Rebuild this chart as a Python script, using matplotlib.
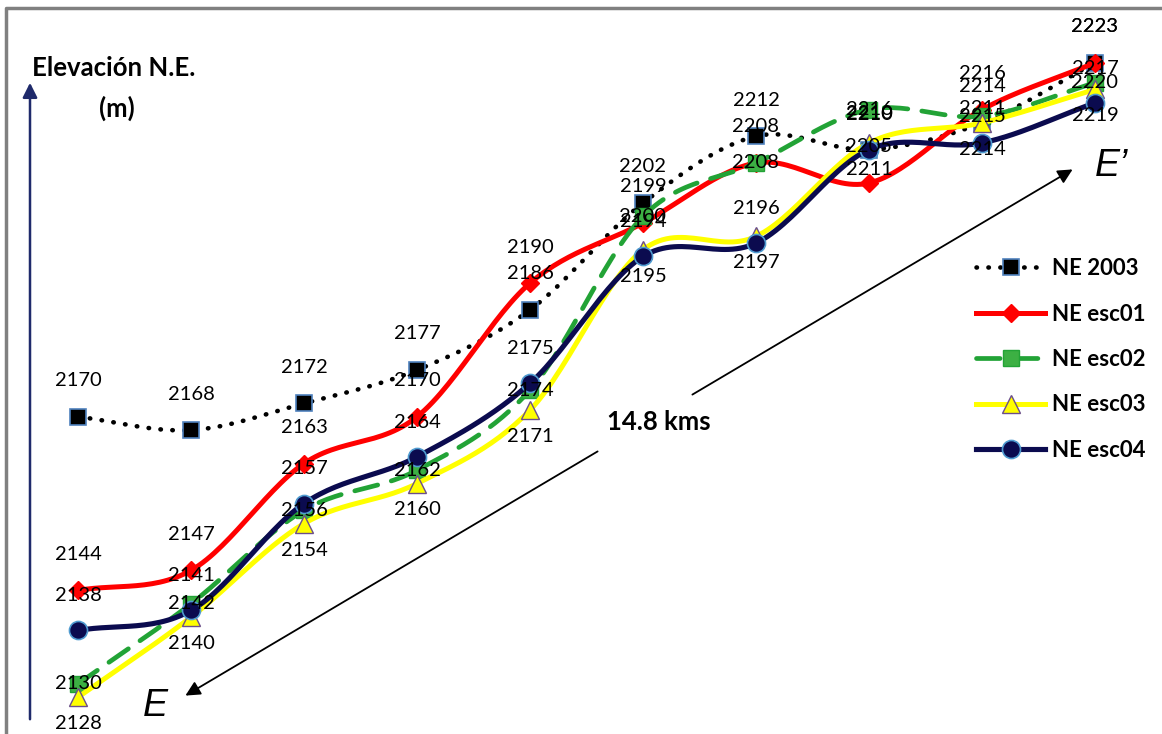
import numpy as np
import matplotlib.pyplot as plt

plt.rcParams['font.family'] = ['Lato', 'DejaVu Sans']

# estaciones a lo largo del perfil E - E'
stations = np.arange(10)
ne_2003 = [2170, 2168, 2172, 2177, 2186, 2202, 2212, 2210, 2214, 2223]
ne_esc01 = [2144, 2147, 2163, 2170, 2190, 2199, 2208, 2205, 2216, 2223]
ne_esc02 = [2130, 2142, 2156, 2162, 2174, 2200, 2208, 2216, 2215, 2220]
ne_esc03 = [2128, 2140, 2154, 2160, 2171, 2195, 2197, 2211, 2214, 2219]
ne_esc04 = [2138, 2141, 2157, 2164, 2175, 2194, 2196, 2210, 2211, 2217]
series_names = ['NE 2003', 'NE esc01', 'NE esc02', 'NE esc03', 'NE esc04']

W, H = 1162, 734


def fig_xy(px, py):
    # pixel position -> figure fraction
    return px / W, 1 - py / H


def smooth(x, y, n=30):
    # catmull-rom curve through the points (like excel smoothed lines)
    x = np.asarray(x, float)
    y = np.asarray(y, float)
    px = np.concatenate([[2 * x[0] - x[1]], x, [2 * x[-1] - x[-2]]])
    py = np.concatenate([[2 * y[0] - y[1]], y, [2 * y[-1] - y[-2]]])
    t = np.linspace(0, 1, n)[:, None]
    out_x, out_y = [], []
    for i in range(1, len(px) - 2):
        for p, out in ((px, out_x), (py, out_y)):
            p0, p1, p2, p3 = p[i - 1], p[i], p[i + 1], p[i + 2]
            c = 0.5 * ((2 * p1) + (-p0 + p2) * t + (2 * p0 - 5 * p1 + 4 * p2 - p3) * t ** 2
                       + (-p0 + 3 * p1 - 3 * p2 + p3) * t ** 3)
            out.extend(c.ravel())
    return np.array(out_x), np.array(out_y)


fig = plt.figure(figsize=(W / 100, H / 100), dpi=100)
ax = fig.add_axes([0, 0, 1, 1])
ax.set_xlim(-78 / 113, 9 + 67 / 113)
ax.set_ylim(2122.5, 2232.4)
ax.axis('off')

styles = [
    dict(color='black', ls=(0, (0.1, 2.5)), lw=3.3, marker='s', ms=12, mfc='black', mec='#4F81BD', mew=1.2),
    dict(color='#FF0000', ls='-', lw=3.6, marker='D', ms=9, mfc='#FF0000', mec='#FF0000', mew=1),
    dict(color='#22A336', ls=(0, (5, 3)), lw=3.4, marker='s', ms=11, mfc='#3CB043', mec='#22A336', mew=1),
    dict(color='#FFFF00', ls='-', lw=3.6, marker='^', ms=13, mfc='#FFFF00', mec='#6B4E8C', mew=1),
    dict(color='#0B0B4F', ls='-', lw=3.7, marker='o', ms=13, mfc='#0B0B4F', mec='#4F9BD0', mew=1.2),
]
label_off = [26, 26, 0, -19, 25]

all_series = [ne_2003, ne_esc01, ne_esc02, ne_esc03, ne_esc04]
for vals, name, st in zip(all_series, series_names, styles):
    sx, sy = smooth(stations, vals)
    ax.plot(sx, sy, color=st['color'], ls=st['ls'], lw=st['lw'],
            dash_capstyle='round', solid_capstyle='round')
    ax.plot(stations, vals, ls='none', marker=st['marker'], ms=st['ms'],
            mfc=st['mfc'], mec=st['mec'], mew=st['mew'])
    # legend proxy
    ax.plot([], [], label=name, dash_capstyle='round', **st)

for vals, off in zip(all_series, label_off):
    for x, v in zip(stations, vals):
        ax.annotate(str(v), (x, v), xytext=(0, off), textcoords='offset points',
                    ha='center', va='center', fontsize=14.5, zorder=10)

leg = ax.legend(loc='upper left', bbox_to_anchor=fig_xy(965, 247), bbox_transform=fig.transFigure,
                frameon=False, fontsize=16, handlelength=3.1, handletextpad=0.3,
                labelspacing=1.1, borderpad=0, numpoints=1)
for t in leg.get_texts():
    t.set_fontweight('bold')

# eje vertical con flecha
ax.annotate('', xy=fig_xy(30, 80), xytext=fig_xy(30, 722), xycoords='figure fraction',
            arrowprops=dict(arrowstyle='-|>', color='#1F2A6B', lw=1.8, mutation_scale=22))
fig.text(*fig_xy(32, 68), 'Elevación N.E.', fontsize=18.5, fontweight='bold', ha='left', va='center')
fig.text(*fig_xy(117, 108), '(m)', fontsize=18.5, fontweight='bold', ha='center', va='center')

# distancia del perfil
ax.annotate('', xy=fig_xy(183, 697), xytext=fig_xy(600, 450), xycoords='figure fraction',
            arrowprops=dict(arrowstyle='-|>', color='black', lw=1.3, mutation_scale=22))
ax.annotate('', xy=fig_xy(1075, 168), xytext=fig_xy(690, 396), xycoords='figure fraction',
            arrowprops=dict(arrowstyle='-|>', color='black', lw=1.3, mutation_scale=22))
fig.text(*fig_xy(659, 422), '14.8 kms', fontsize=18.5, fontweight='bold', ha='center', va='center')
fig.text(*fig_xy(155, 706), 'E', fontsize=27, style='italic', ha='center', va='center',
         family='Liberation Sans')
fig.text(*fig_xy(1112, 166), 'E\u2019', fontsize=27, style='italic', ha='center', va='center',
         family='Liberation Sans')

# marco gris
fig.add_artist(plt.Line2D([6 / W, 6 / W, 1], [0, 1 - 8 / H, 1 - 8 / H], color='#808080', lw=2.5,
                          transform=fig.transFigure))

fig.savefig('out.png', dpi=100)
